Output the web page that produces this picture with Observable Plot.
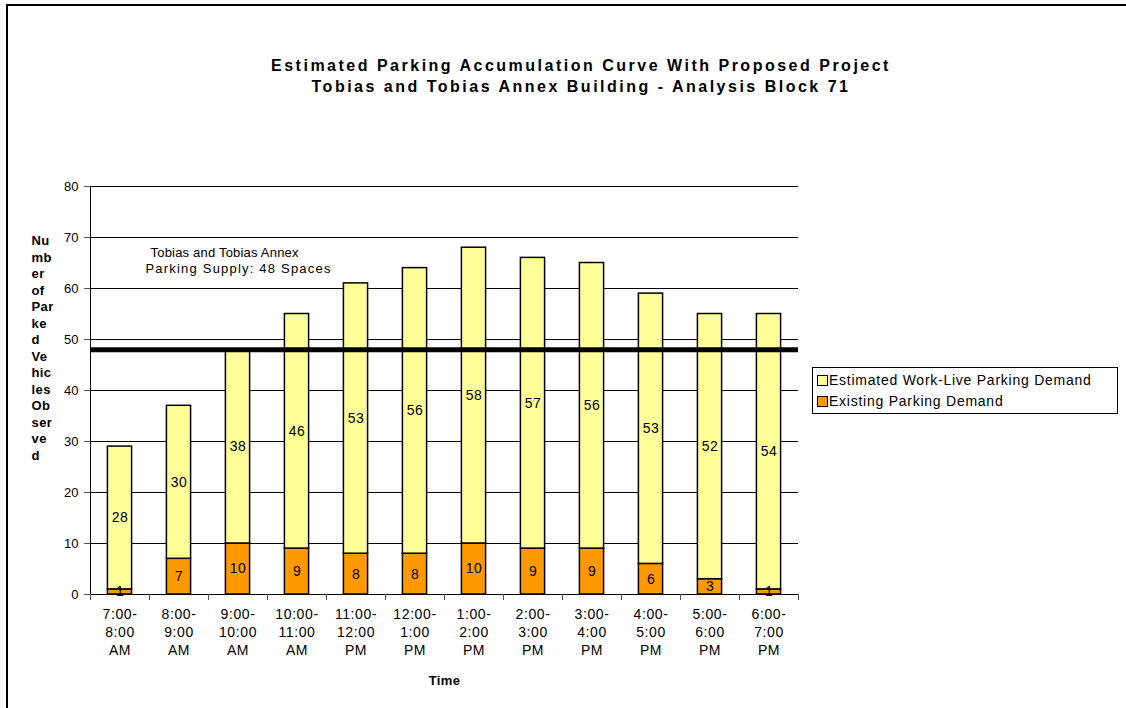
<!DOCTYPE html>
<html>
<head>
<meta charset="utf-8">
<script src="https://cdn.jsdelivr.net/npm/d3@7"></script>
<script src="https://cdn.jsdelivr.net/npm/@observablehq/plot@0.6"></script>
<style>
  body { margin: 0; background: #fff; }
  #page { position: relative; width: 1126px; height: 708px; overflow: hidden;
          font-family: "Liberation Sans", Arial, sans-serif; color: #000; }
  #border { position: absolute; left: 6px; top: 4px; width: 1140px; height: 720px;
            border-left: 2px solid #000; border-top: 2px solid #000; }
  #chart { position: absolute; left: 0; top: 0; }
  #title { position: absolute; left: 181px; top: 55px; width: 800px; text-align: center;
           font-weight: bold; font-size: 16px; line-height: 21px; letter-spacing: 2.5px; }
  #legend { position: absolute; left: 812px; top: 367px; width: 304px; height: 45px;
            border: 1px solid #000; background: #fff; font-size: 14px; letter-spacing: 0.75px; }
  #legend .item { position: absolute; left: 4px; height: 16px; line-height: 16px; white-space: nowrap; }
  #legend .sw { display: inline-block; width: 9px; height: 9px; border: 1px solid #000;
                vertical-align: -1px; margin-right: 1px; }
</style>
</head>
<body>
<div id="page">
  <div id="border"></div>
  <div id="chart"></div>
  <div id="title">Estimated Parking Accumulation Curve With Proposed Project<br>Tobias and Tobias Annex Building - Analysis Block 71</div>
  <div id="legend"></div>
</div>
<script>
// Hourly periods along the x axis
const periods = [
  "7:00-8:00 AM", "8:00-9:00 AM", "9:00-10:00 AM", "10:00-11:00 AM",
  "11:00-12:00 PM", "12:00-1:00 PM", "1:00-2:00 PM", "2:00-3:00 PM",
  "3:00-4:00 PM", "4:00-5:00 PM", "5:00-6:00 PM", "6:00-7:00 PM"
];
// Parked vehicles per period
const existingDemand = [1, 7, 10, 9, 8, 8, 10, 9, 9, 6, 3, 1];
const workLiveDemand = [28, 30, 38, 46, 53, 56, 58, 57, 56, 53, 52, 54];
const seriesNames = ["Existing Parking Demand", "Estimated Work-Live Parking Demand"];
const seriesColors = ["#FF9900", "#FFFF99"];
const parkingSupply = 48;
const yTicks = [0, 10, 20, 30, 40, 50, 60, 70, 80];
const yTitleLines = ["Nu", "mb", "er", "of", "Par", "ke", "d", "Ve", "hic", "les", "Ob", "ser", "ve", "d"];
const supplyNote = ["Tobias and Tobias Annex", "Parking Supply: 48 Spaces"];

// Long table: existing demand stacked first (bottom), work-live on top
const rows = periods.flatMap((period, i) => [
  {period, series: seriesNames[0], value: existingDemand[i]},
  {period, series: seriesNames[1], value: workLiveDemand[i]}
]);

const W = 1126, H = 708;
const mL = 90, mR = 328, mT = 186, mB = 114;
const step = (W - mL - mR) / periods.length;
const font = "'Liberation Sans', Arial, sans-serif";

const chart = Plot.plot({
  width: W,
  height: H,
  marginLeft: mL,
  marginRight: mR,
  marginTop: mT,
  marginBottom: mB,
  style: {fontFamily: font, fontSize: "13px", color: "#000", background: "transparent", overflow: "visible"},
  x: {domain: periods, paddingInner: 0.59, paddingOuter: 0.295, round: false, label: null},
  y: {domain: [0, 80], label: null},
  color: {domain: seriesNames, range: seriesColors},
  marks: [
    Plot.gridY(yTicks, {stroke: "#000", strokeOpacity: 1, strokeWidth: 1}),
    Plot.barY(rows, {x: "period", y: "value", fill: "series", stroke: "#000", strokeWidth: 1.5}),
    Plot.text(rows, Plot.stackY({x: "period", y: "value", z: "series", text: "value", fontSize: 14, fill: "#000"})),
    Plot.ruleY([parkingSupply], {stroke: "#000", strokeWidth: 5}),
    Plot.ruleY([0], {stroke: "#000", strokeWidth: 1}),
    Plot.frame({anchor: "left", stroke: "#000"}),
    // tick marks between the period bands
    Plot.ruleX(periods, {x: d => d, y1: 0, y2: 0, insetBottom: -6, dx: -step / 2, stroke: "#555"}),
    Plot.ruleX(periods.slice(-1), {x: d => d, y1: 0, y2: 0, insetBottom: -6, dx: step / 2, stroke: "#555"}),
    Plot.axisY({ticks: yTicks, tickSize: 6, tickPadding: 6, fontSize: 13, stroke: "#555", label: null}),
    Plot.axisX({
      tickSize: 0, tickPadding: 12, fontSize: 14, lineHeight: 1.29, label: null,
      tickFormat: d => d.replace("-", "-\n").replace(" ", "\n")
    }),
    Plot.text(["Time"], {frameAnchor: "bottom", dy: 90, fontWeight: "bold", fontSize: 13}),
    Plot.text([yTitleLines.join("\n")], {
      frameAnchor: "top-left", textAnchor: "start", lineAnchor: "top",
      dx: -59, dy: 47, lineHeight: 1.27, fontWeight: "bold", fontSize: 13
    }),
    Plot.text([supplyNote[0]], {frameAnchor: "top-left", dx: 60, dy: 61, fontSize: 13}),
    Plot.text([supplyNote[1]], {frameAnchor: "top-left", dx: 55, dy: 77, fontSize: 13})
  ]
});
// x tick labels and the supply note are set with slightly open tracking
const svg = d3.select(chart);
svg.selectAll("[aria-label='x-axis tick label'] text").style("letter-spacing", "0.6px");
svg.selectAll("[aria-label='text'] text").style("letter-spacing", "0.4px");
svg.selectAll("text").filter(function() { return this.textContent === supplyNote[0]; }).style("letter-spacing", "0.2px");
svg.selectAll("text").filter(function() { return this.textContent === supplyNote[1]; }).style("letter-spacing", "1.2px");
document.getElementById("chart").appendChild(chart);

// Legend, top entry first
const legend = document.getElementById("legend");
[[seriesNames[1], seriesColors[1], 4], [seriesNames[0], seriesColors[0], 25]].forEach(([name, color, top]) => {
  const item = document.createElement("div");
  item.className = "item";
  item.style.top = top + "px";
  const sw = document.createElement("span");
  sw.className = "sw";
  sw.style.background = color;
  item.appendChild(sw);
  item.appendChild(document.createTextNode(name));
  legend.appendChild(item);
});
</script>
</body>
</html>
